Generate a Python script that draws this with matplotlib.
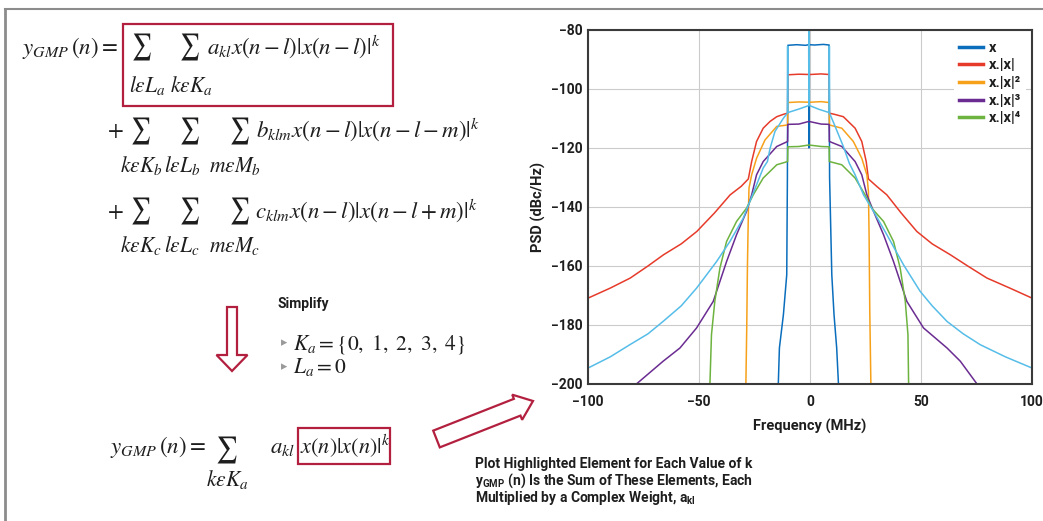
import matplotlib
matplotlib.use('Agg')
import matplotlib.pyplot as plt
from matplotlib.patches import FancyArrow, Rectangle, PathPatch
from matplotlib.textpath import TextPath
from matplotlib.font_manager import FontProperties
from matplotlib.transforms import Affine2D

plt.rcParams['font.family'] = ['Roboto', 'DejaVu Sans']
plt.rcParams['mathtext.fontset'] = 'stix'
plt.rcParams['mathtext.rm'] = 'Roboto:bold'

# PSD curves, frequency in MHz, PSD in dBc/Hz
blue_f = [-14.3, -13.8, -12.0, -10.5, -10.2, -10.0, -6, -2, -0.6, -0.5,
          -0.4, 2, 6, 8.6, 8.8, 9.8, 10.8, 12.0, 12.8]
blue_p = [-200, -187.8, -176.5, -163, -130, -85.2, -85.0, -85.2, -85.0, -120,
          -85.0, -85.1, -84.9, -85.1, -130, -163, -176.5, -187.8, -200]

red_f = [-100, -90, -81, -73, -66, -58, -51, -43, -36, -31,
         -27.8, -26.3, -24.1, -21.1, -18, -15, -12, -10.1, -10.0, -5,
         0, 5, 8.6, 8.7, 11, 15, 20.3, 23.3, 25.3, 26.3,
         30, 34.6, 41, 48.1, 55, 63.2, 71, 79.7, 90, 100]
red_p = [-170.9, -167.5, -164.1, -160, -156.2, -152.5, -148.3, -142, -135.9, -133,
         -130.5, -124.6, -117.8, -113.3, -111, -109.4, -108.6, -108.2, -95.2, -95,
         -95.1, -94.9, -95.1, -108.2, -108.6, -109.4, -113.3, -117.8, -124.6, -130.5,
         -133, -135.9, -142, -148.3, -152.5, -156.2, -160, -164.1, -167.5, -170.9]

orange_f = [-28.9, -28.5, -28.2, -27.8, -27.5, -26.3, -24.1, -20.3, -15, -10.1,
            -10.0, -5, 0, 5, 8.6, 8.7, 14.3, 19.5, 23.3, 25.6,
            26.3, 26.6, 26.9, 27.4]
orange_p = [-200, -180, -160, -142.7, -133.6, -129.1, -123.5, -117.3, -112.7, -112.2,
            -104.6, -104.4, -104.5, -104.3, -104.6, -112.2, -113.3, -117.8, -123.5, -129.1,
            -134.8, -150, -175, -200]

purple_f = [-78.2, -66.2, -58.6, -51.1, -43.6, -37.6, -33.1, -28.6, -26.3, -24.1,
            -21.1, -15, -10.1, -10.0, -5, -0.5, 5, 8.6, 8.7, 14.3,
            20.3, 23.3, 25.6, 28.6, 33.1, 37.6, 43.6, 51.1, 61.7, 67.7,
            75.2]
purple_p = [-200, -192.3, -187.8, -181, -172, -158.5, -149.4, -141.5, -135.9, -129.1,
            -124.6, -119.5, -117.8, -112.0, -111.9, -111.0, -111.9, -112.0, -117.8, -119.5,
            -124.6, -129.1, -135.9, -141.5, -149.4, -158.5, -172, -181, -187.8, -192.3,
            -200]

green_f = [-45.1, -44.4, -42.9, -40.6, -37.6, -33.1, -28.6, -25.6, -21.1, -15,
           -10.1, -10.0, -5, -0.5, 5, 8.6, 8.7, 14.3, 20.3, 24.8,
           27.8, 33.1, 37.6, 40.6, 42.9, 44.1, 44.4]
green_p = [-200, -183.3, -172, -160.7, -151.7, -144.9, -140.4, -135.9, -130.2, -125.7,
           -124.6, -119.6, -119.5, -119.0, -119.5, -119.6, -124.6, -125.7, -130.2, -135.9,
           -140.4, -144.9, -151.7, -160.7, -172, -183.3, -200]

# light blue trace, not in the legend
cyan_f = [-100, -90, -81.2, -73, -66.2, -58, -51.1, -42.1, -36.1, -30.1,
          -27.1, -24.1, -21.1, -19.2, -18, -15.8, -12, -10.2, -10.1, -10.0,
          -5, -0.5, -0.4, -0.3, 4, 8.6, 8.7, 8.8, 11.3, 15,
          17.7, 20.3, 24.1, 28.6, 34.6, 42.1, 49.6, 55, 61.7, 69,
          76.7, 88, 100]
cyan_p = [-194.6, -190.8, -186.7, -183, -178.8, -173.5, -167.5, -158.5, -151.7, -143.8,
          -138.1, -132.5, -126.8, -124.6, -120.1, -114.4, -109.9, -108.2, -85.5, -108,
          -106.8, -105.6, -75, -105.6, -106.9, -108, -85.5, -108.2, -112.7, -119.5,
          -125.2, -129.1, -135.9, -141.5, -149.4, -159.6, -168.6, -173.5, -178.8, -183,
          -186.7, -190.8, -194.6]

labels = ['x', 'x.|x|', 'x.|x|²', 'x.|x|³', 'x.|x|⁴']
colors = ['#0A6EBD', '#E63B2A', '#F7A11A', '#6A2C91', '#6DB33F']
cyan = '#56BDE8'
crimson = '#B3203F'
ink = '#1e1e1e'

x_ticks = [-100, -50, 0, 50, 100]
y_ticks = [-200, -180, -160, -140, -120, -100, -80]

fig = plt.figure(figsize=(10.43, 5.21), dpi=100)

# overlay in pixel coordinates for the equations and arrows
ax0 = fig.add_axes([0, 0, 1, 1])
ax0.set_xlim(0, 1043)
ax0.set_ylim(521, 0)
ax0.axis('off')

ax0.plot([5, 5], [9, 521], color='#8c8c8c', lw=2)
ax0.plot([5, 1043], [9, 9], color='#8c8c8c', lw=1.5)

eq = dict(fontsize=16.5, color=ink, va='baseline')
lim = dict(fontsize=15.5, color=ink, va='baseline', ha='center')

# tall display-style summation sign
sum_path = TextPath((0, 0), r'$\sum$', size=20, prop=FontProperties(math_fontfamily='stix'))
sum_ext = sum_path.get_extents()


def big_sum(cx, cy, w=17.5, h=27):
    tr = (Affine2D()
          .translate(-(sum_ext.x0 + sum_ext.x1) / 2, -(sum_ext.y0 + sum_ext.y1) / 2)
          .scale(w / sum_ext.width, -h / sum_ext.height)
          .translate(cx, cy))
    ax0.add_patch(PathPatch(tr.transform_path(sum_path), fc=ink, ec='none'))


# full GMP model
ax0.text(22, 54, r'$y_{GMP}\,(n) =$', ha='left', **eq)
big_sum(142, 47)
big_sum(190, 47)
ax0.text(147, 92, r'$l\varepsilon L_a$', **lim)
ax0.text(191, 92, r'$k\varepsilon K_a$', **lim)
ax0.text(207, 54, r'$a_{kl}x(n-l)|x(n-l)|^k$', ha='left', **eq)
ax0.add_patch(Rectangle((123, 24), 270, 82, fill=False, ec=crimson, lw=1.6))

ax0.text(115, 137, r'$+$', ha='center', **eq)
for xs in [141, 190, 240]:
    big_sum(xs, 131)
ax0.text(141, 172, r'$k\varepsilon K_b$', **lim)
ax0.text(182, 172, r'$l\varepsilon L_b$', **lim)
ax0.text(235, 172, r'$m\varepsilon M_b$', **lim)
ax0.text(256, 137, r'$b_{klm}x(n-l)|x(n-l-m)|^k$', ha='left', **eq)

ax0.text(115, 218, r'$+$', ha='center', **eq)
for xs in [141, 190, 240]:
    big_sum(xs, 211)
ax0.text(141, 252, r'$k\varepsilon K_c$', **lim)
ax0.text(182, 252, r'$l\varepsilon L_c$', **lim)
ax0.text(235, 252, r'$m\varepsilon M_c$', **lim)
ax0.text(255, 218, r'$c_{klm}x(n-l)|x(n-l+m)|^k$', ha='left', **eq)

# simplify step
ax0.add_patch(FancyArrow(232, 307, 0, 64, width=10, head_width=31, head_length=16,
                         length_includes_head=True, fc='white', ec=crimson, lw=1.6))
ax0.text(278, 304, 'Simplify', fontsize=10, fontweight='bold', color=ink, va='center')
ax0.text(281, 343, '▸', fontsize=9, color='#9a9a9a', va='center', family='DejaVu Sans')
ax0.text(293, 349, r'$K_a = \{0,\ 1,\ 2,\ 3,\ 4\}$', ha='left', fontsize=15.5,
         color=ink, va='baseline')
ax0.text(281, 367, '▸', fontsize=9, color='#9a9a9a', va='center', family='DejaVu Sans')
ax0.text(293, 373, r'$L_a = 0$', ha='left', fontsize=15.5, color=ink, va='baseline')

# simplified model
ax0.text(110, 453, r'$y_{GMP}\,(n) =$', ha='left', **eq)
big_sum(227, 450, w=19)
ax0.text(227, 486, r'$k\varepsilon K_a$', **lim)
ax0.text(270, 453, r'$a_{kl}$', ha='left', **eq)
ax0.text(300, 453, r'$x(n)|x(n)|^k$', ha='left', fontsize=16, color=ink, va='baseline')
ax0.add_patch(Rectangle((298, 428), 92, 36, fill=False, ec=crimson, lw=1.6))

ax0.add_patch(FancyArrow(436.5, 439, 96.5, -38, width=18, head_width=27, head_length=17,
                         length_includes_head=True, fc='white', ec=crimson, lw=1.6))

desc = dict(fontsize=10, fontweight='bold', color=ink, va='center', math_fontfamily='custom')
ax0.text(475, 464, 'Plot Highlighted Element for Each Value of k', **desc)
ax0.text(475, 481, r'$\mathrm{y}_{\mathrm{GMP}}$ (n) Is the Sum of These Elements, Each', **desc)
ax0.text(475, 498, r'Multiplied by a Complex Weight, $\mathrm{a}_{\mathrm{kl}}$', **desc)

# PSD chart
ax = fig.add_axes([0.5638, 0.2630, 0.4257, 0.6795])
series = [(blue_f, blue_p), (red_f, red_p), (orange_f, orange_p),
          (purple_f, purple_p), (green_f, green_p)]
for (f, p), c, lab in zip(series, colors, labels):
    ax.plot(f, p, color=c, lw=1.1, label=lab)
ax.plot(cyan_f, cyan_p, color=cyan, lw=1.1)

ax.set_xlim(-100, 100)
ax.set_ylim(-200, -80)
ax.set_xticks(x_ticks)
ax.set_yticks(y_ticks)
ax.grid(True, color='#cbcbcb', lw=0.8)
ax.set_axisbelow(True)
ax.tick_params(length=0, labelsize=10, colors=ink)
ax.tick_params(axis='x', pad=8)
ax.tick_params(axis='y', pad=4)
for lbl in ax.get_xticklabels() + ax.get_yticklabels():
    lbl.set_fontweight('bold')
for sp in ax.spines.values():
    sp.set_color('#3a3a3a')
    sp.set_linewidth(1.5)

ax.set_xlabel('Frequency (MHz)', fontsize=10.5, fontweight='bold', color=ink)
ax.set_ylabel('PSD (dBc/Hz)', fontsize=10.5, fontweight='bold', color=ink)
ax.xaxis.set_label_coords(0.5, -0.1)
ax.yaxis.set_label_coords(-0.095, 0.5)

leg = ax.legend(loc='upper right', bbox_to_anchor=(0.986, 0.982), borderaxespad=0,
                frameon=True, facecolor='white', edgecolor='none', framealpha=1,
                prop={'weight': 'bold', 'size': 10.5}, handlelength=1.65,
                handletextpad=0.45, labelspacing=0.25, borderpad=0.3)
for h in leg.get_lines():
    h.set_linewidth(2.5)
for t in leg.get_texts():
    t.set_color(ink)

fig.savefig('out.png', dpi=100)
